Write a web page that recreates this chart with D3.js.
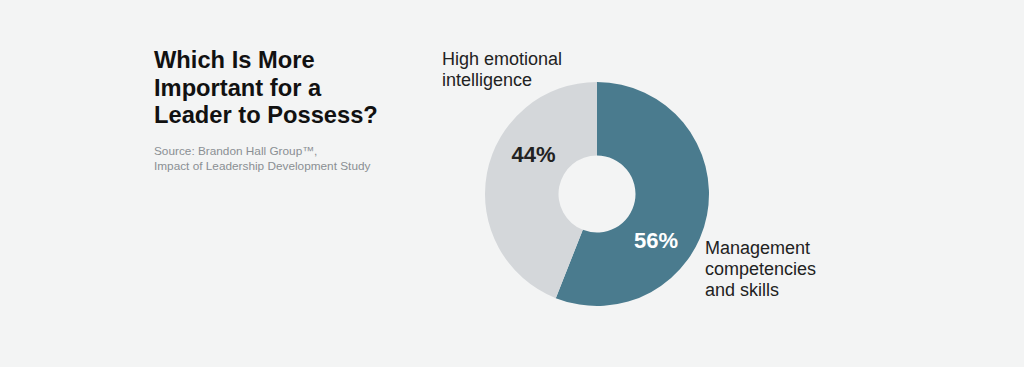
<!DOCTYPE html>
<meta charset="utf-8">
<script src="https://d3js.org/d3.v7.min.js"></script>
<style>
  body { margin: 0; background: #f3f4f4; }
  text { font-family: "Liberation Sans", Arial, Helvetica, sans-serif; }
</style>
<div id="main"></div>
<script>
var width = 1024
var height = 367

// chart data
var categories = ["Management competencies and skills", "High emotional intelligence"]
var values = [56, 44]
var valueLabels = ["56%", "44%"]
var sliceColors = ["#4a7b8e", "#d4d7da"]
var labelColors = ["#ffffff", "#222222"]

var titleLines = ["Which Is More", "Important for a", "Leader to Possess?"]
var sourceLines = ["Source: Brandon Hall Group\u2122,", "Impact of Leadership Development Study"]
var catLabelLines = [["Management", "competencies", "and skills"], ["High emotional", "intelligence"]]

var svg = d3.select("#main")
  .append("svg")
    .attr("width", width)
    .attr("height", height)

svg.append("rect")
  .attr("width", width)
  .attr("height", height)
  .attr("fill", "#f3f4f4")

// title
svg.append("g")
  .selectAll("text")
  .data(titleLines)
  .enter()
  .append("text")
    .attr("x", 154)
    .attr("y", (d, i) => 68 + i * 27.5)
    .attr("font-size", 23.7)
    .attr("font-weight", "bold")
    .attr("fill", "#111")
    .text(d => d)

svg.append("g")
  .selectAll("text")
  .data(sourceLines)
  .enter()
  .append("text")
    .attr("x", 154)
    .attr("y", (d, i) => 155 + i * 14.5)
    .attr("font-size", 11.8)
    .attr("fill", "#8a8f93")
    .text(d => d)

// donut, the hole shows the background
var cx = 597, cy = 194
var outerR = 112, innerR = 38.5

var pie = d3.pie().sort(null).value(d => d)
var arcs = pie(values)
var arc = d3.arc().innerRadius(innerR).outerRadius(outerR)

var g = svg.append("g").attr("transform", "translate(" + cx + "," + cy + ")")

g.selectAll("path")
  .data(arcs)
  .enter()
  .append("path")
    .attr("d", arc)
    .attr("fill", (d, i) => sliceColors[i])

// percent labels sit a bit past the middle of each slice
function labelPos(d) {
  var a = d.startAngle + 0.635 * (d.endAngle - d.startAngle)
  var r = 75
  return [Math.sin(a) * r, -Math.cos(a) * r]
}
g.selectAll("text.pct")
  .data(arcs)
  .enter()
  .append("text")
    .attr("class", "pct")
    .attr("transform", d => "translate(" + labelPos(d) + ")")
    .attr("text-anchor", "middle")
    .attr("dy", "0.36em")
    .attr("font-size", 22)
    .attr("font-weight", "bold")
    .attr("fill", (d, i) => labelColors[i])
    .text((d, i) => valueLabels[i])

// category labels
var catPos = [[705, 254], [442, 65]]
catLabelLines.forEach(function(lines, k) {
  svg.append("g")
    .selectAll("text")
    .data(lines)
    .enter()
    .append("text")
      .attr("x", catPos[k][0])
      .attr("y", (d, i) => catPos[k][1] + i * 21)
      .attr("font-size", 18)
      .attr("fill", "#222")
      .text(d => d)
})
</script>
